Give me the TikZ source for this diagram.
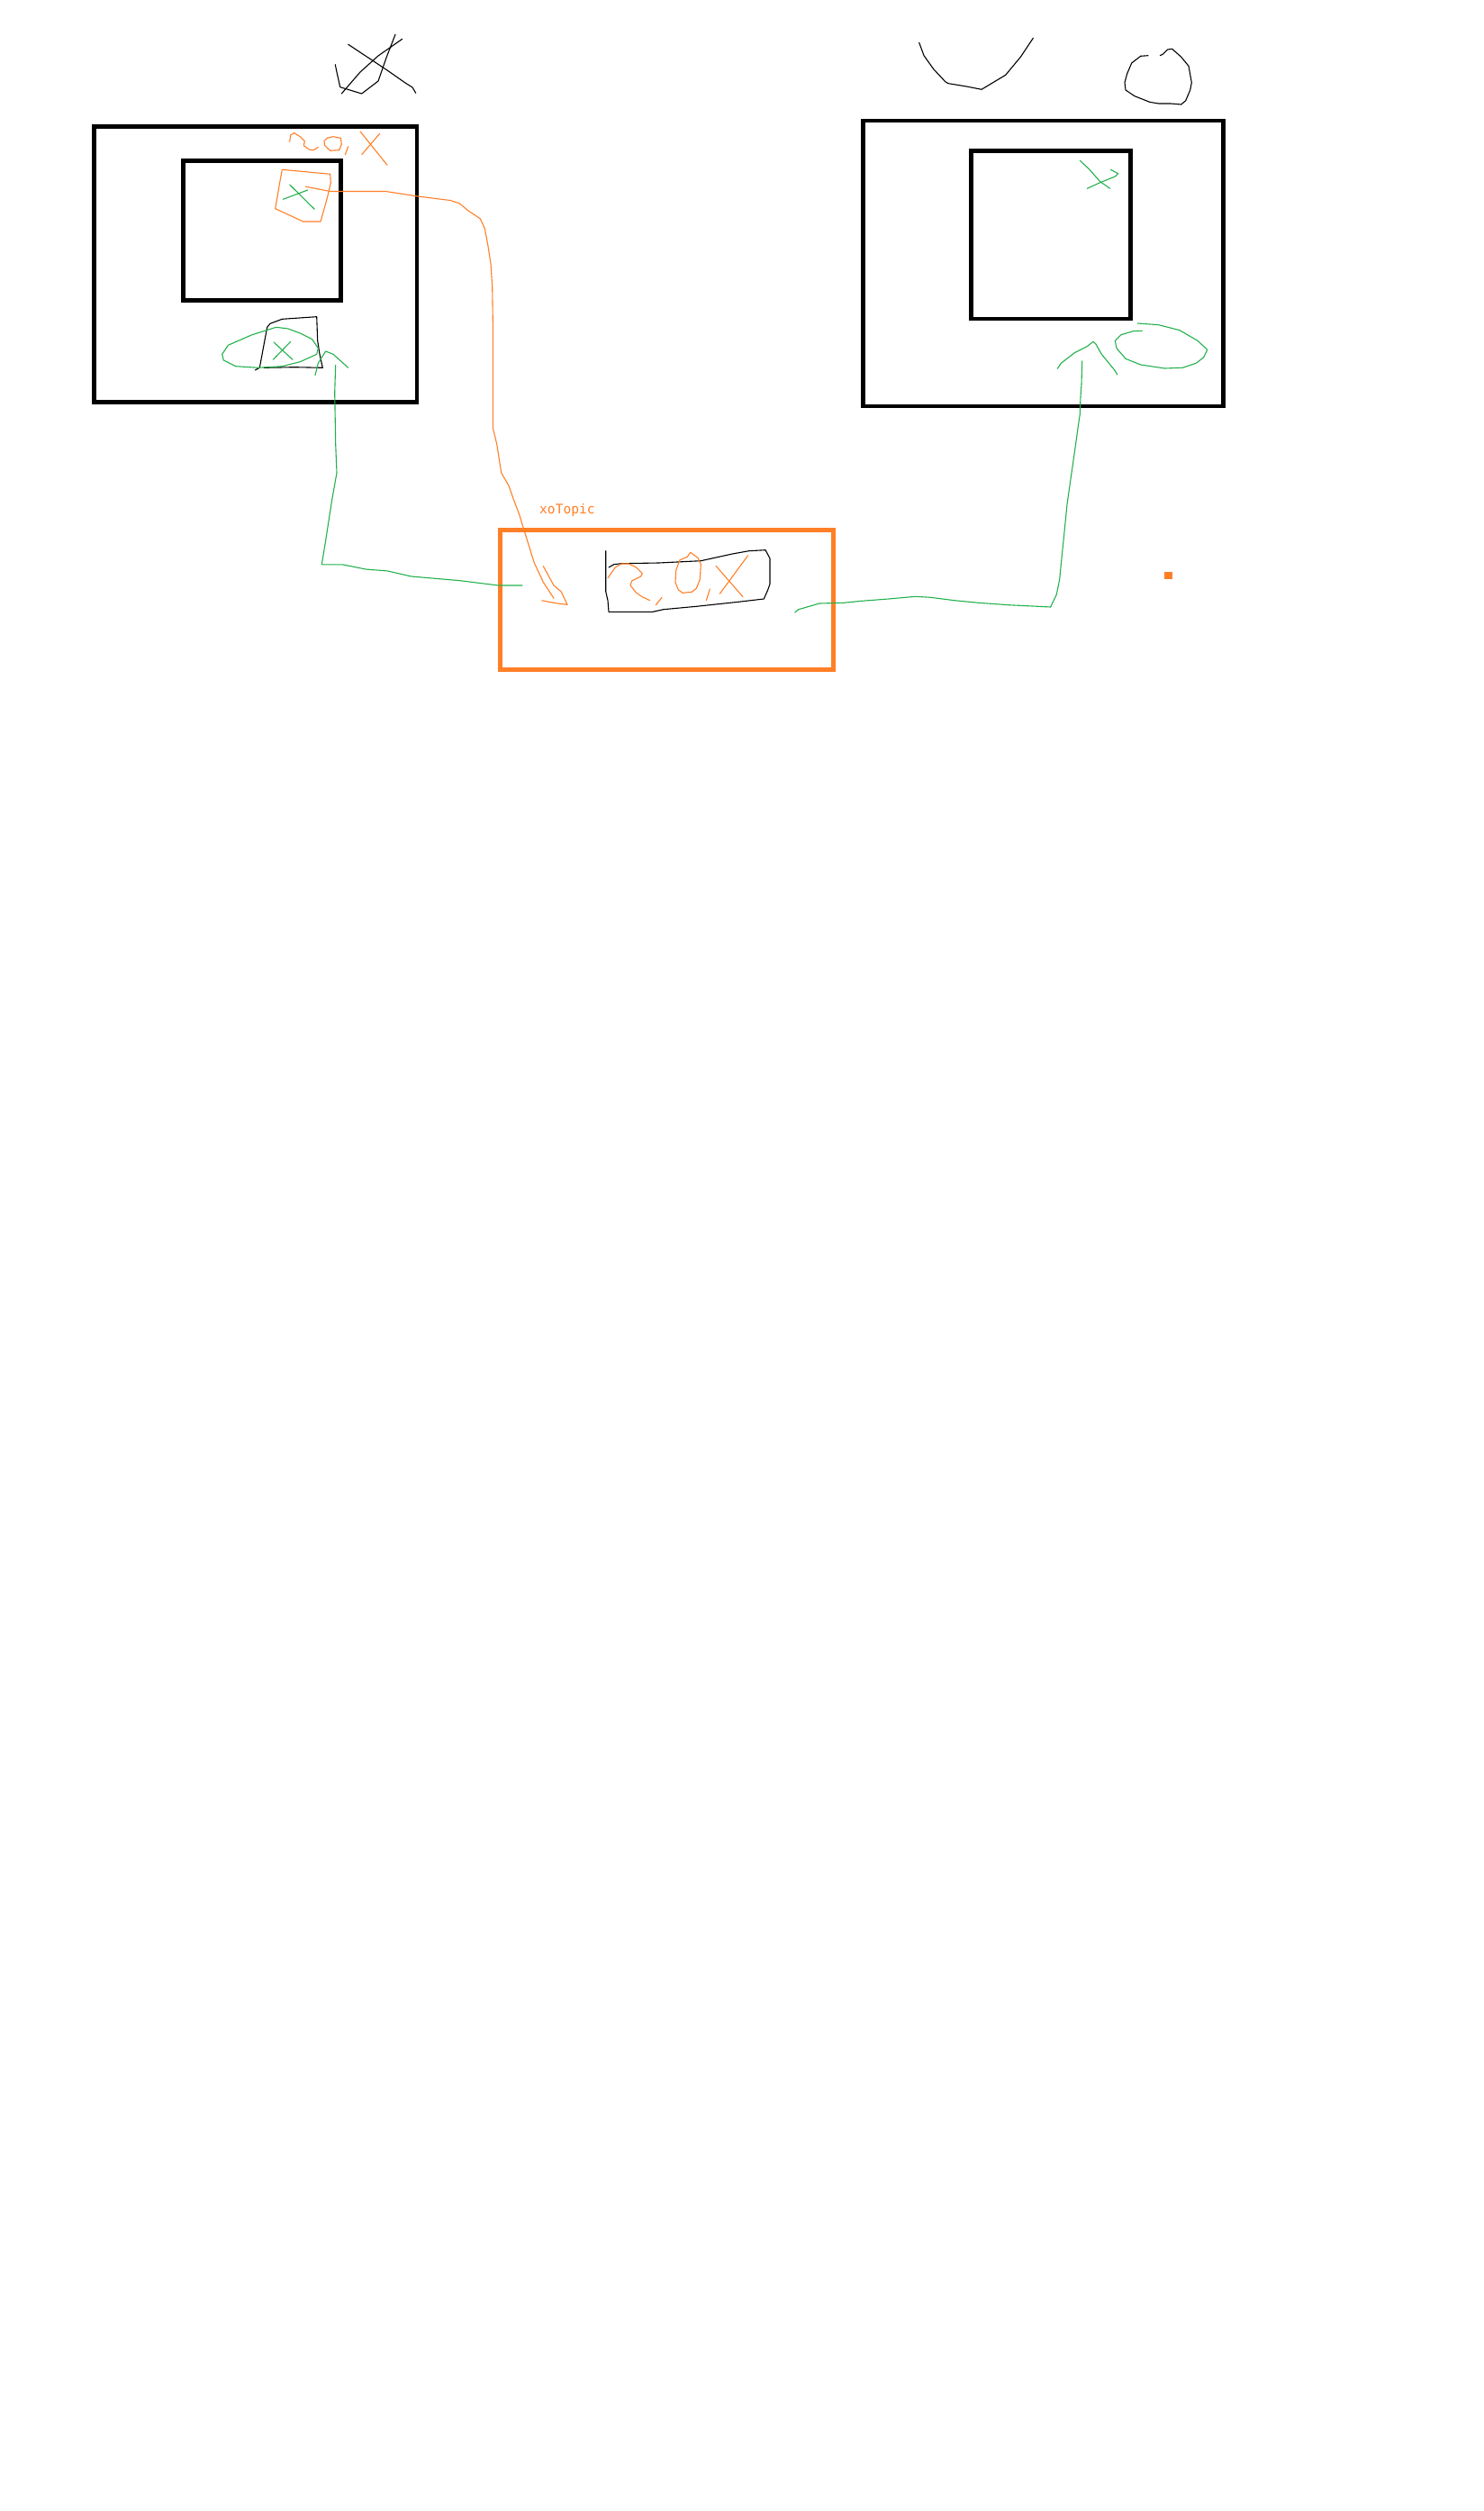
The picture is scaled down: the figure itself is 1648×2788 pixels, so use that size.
\documentclass[tikz,border=0pt]{standalone}
\usepackage{fontspec}
\newfontfamily\labelfont{DejaVu Sans Mono}
\definecolor{sketchorange}{RGB}{255,127,39}
\definecolor{sketchgreen}{RGB}{34,177,76}

\begin{document}
\begin{tikzpicture}[x=1pt,y=-1pt,
   frame/.style={line width=4.6pt},
   pen/.style={line width=1.1pt,line join=round,line cap=round}]
   \useasboundingbox (0,0) rectangle (1648,2788);
   \fill[white] (0,0) rectangle (1648,2788);

   \draw[frame] (104.7,140.7) rectangle (463,446.7);
   \draw[frame] (203.3,178.7) rectangle (378.3,333.3);
   \draw[frame] (958.3,134) rectangle (1358.3,451);
   \draw[frame] (1078.7,167.7) rectangle (1255.3,354);
   \draw[frame,sketchorange] (555.3,588.7) rectangle (925.3,743.7);
   \fill[sketchorange] (1293.3,635) rectangle (1302,643.3);

   \node[anchor=base west,inner sep=0pt,text=sketchorange,font=\labelfont\fontsize{14.6}{17}\selectfont] (topic) at (599,570) {xoTopic};

   \draw[pen] (386.7,49.3) -- (430,78) -- (450,92) -- (458,97) -- (461.7,103.3);
   \draw[pen] (446.7,43.3) -- (420,62) -- (400,80) -- (379.3,104);
   \draw[pen] (372.3,71.7) -- (374,80) -- (377.7,96.7) -- (401.7,104) -- (420,90) -- (429.3,63.3) -- (439,38.3);

   \draw[pen] (1020.7,47.3) -- (1026,61.7) -- (1036.7,76.7) -- (1050,91) -- (1053.3,92.7) -- (1073.3,96) -- (1090,99.3) -- (1116.7,83.3) -- (1133.3,63.3) -- (1140,53.3) -- (1147.3,42.3);
   \draw[pen] (1275,61.7) -- (1266.7,62.3) -- (1256.7,70) -- (1251.7,81.7) -- (1249,91.7) -- (1250,100) -- (1260,106.7) -- (1276.7,113.3) -- (1286.7,115) -- (1300,115) -- (1311.7,116) -- (1316.7,111.7) -- (1321.7,100) -- (1323.3,91.7) -- (1320,73.3) -- (1311.7,63.3) -- (1301.7,54.3) -- (1296.7,55) -- (1291.7,60) -- (1288.3,61.7);

   \draw[pen,sketchorange] (321.7,157.3) -- (322.7,150) -- (326.7,147.7) -- (333.3,151.7) -- (338.3,156.7) -- (337.3,161.7) -- (343.3,166) -- (348.3,166.7) -- (353.3,163.3);
   \draw[pen,sketchorange] (363.3,153.3) -- (370,151.7) -- (378.3,153.3) -- (379.3,160) -- (376.7,166.7) -- (366.7,167.3) -- (360.7,161.7) -- (360,156.7) -- cycle;
   \draw[pen,sketchorange] (386.7,162.7) -- (383.3,171.7);
   \draw[pen,sketchorange] (400,146) -- (430,183.3);
   \draw[pen,sketchorange] (421.7,148.3) -- (401.7,171.7);

   \draw[pen,sketchorange] (313.3,188.3) -- (366.7,193.3) -- (367.3,203.3) -- (363.3,220) -- (356,246) -- (336.7,246) -- (320,238.3) -- (305.7,231.7) -- (310,206.7) -- cycle;
   \draw[pen,sketchgreen] (321.7,205) -- (349.3,232.3);
   \draw[pen,sketchgreen] (314.3,221.3) -- (341.7,211);

   \draw[pen] (283.3,411) -- (288.3,408.3) -- (296.7,363.3) -- (300,359.3) -- (313.3,354.3) -- (351.7,351.7) -- (352.7,378.3) -- (355,393.3) -- (358.3,408.3) -- (326.7,407.7) -- (293.3,408.3);
   \draw[pen,sketchgreen] (246.7,393.3) -- (253.3,383.3) -- (280,371.7) -- (306.7,363.3) -- (320,365) -- (333.3,370) -- (346.7,376.7) -- (353.3,386.7) -- (351.7,393.3) -- (333.3,401.7) -- (313.3,406.7) -- (286.7,408.3) -- (261.7,406.7) -- (248.3,400) -- cycle;
   \draw[pen,sketchgreen] (304,380) -- (325,399.3);
   \draw[pen,sketchgreen] (303.3,399.3) -- (322.7,379.3);

   \draw[pen,sketchgreen] (1199.3,178.3) -- (1210,188.3) -- (1221.7,201.7) -- (1232.7,209.3);
   \draw[pen,sketchgreen] (1207.3,209.3) -- (1221.7,202.7) -- (1238.3,196) -- (1241.7,192.7) -- (1233.3,188.3);
   \draw[pen,sketchgreen] (1263.3,359) -- (1286.7,360.7) -- (1310,366.7) -- (1330,378.3) -- (1340.7,388.3) -- (1336.7,396.7) -- (1328.3,403.3) -- (1313.3,408.3) -- (1293.3,409) -- (1266.7,405) -- (1250,398.3) -- (1240,386.7) -- (1238.3,378.3) -- (1245,371.7) -- (1258.3,367.7) -- (1268.3,367.3);

   \draw[pen] (672.7,611.7) -- (672.7,656.7) -- (675,666.7) -- (676,679.3) -- (725,679.3) -- (736.7,676.7) -- (773.3,673.3) -- (820,668.3) -- (848.3,665) -- (852.7,655) -- (855,648.3) -- (855,620) -- (850,610.7) -- (831.7,611.7) -- (813.3,615) -- (778.3,622.7) -- (731.7,625) -- (690,625.7) -- (681.7,626.7) -- (676,630);
   \draw[pen,sketchorange] (675,641.7) -- (683.3,630) -- (690,626) -- (698.3,626) -- (706.7,630) -- (713.3,636.7) -- (711.7,640) -- (701.7,645) -- (700,650) -- (706.7,658.3) -- (713.3,662.7) -- (721.7,666.7);
   \draw[pen,sketchorange] (735,663.3) -- (728.3,671.7);
   \draw[pen,sketchorange] (766.7,613.3) -- (775,619.3) -- (778.3,626.7) -- (777.3,643.3) -- (773.3,653.3) -- (768.3,657.3) -- (758.3,658.3) -- (753.3,655) -- (750,646.7) -- (750.7,633.3) -- (755,621.7) -- (763.3,618.3) -- cycle;
   \draw[pen,sketchorange] (788.3,654) -- (784.3,666.7);
   \draw[pen,sketchorange] (795,628.3) -- (825,662.7);
   \draw[pen,sketchorange] (830.7,616.7) -- (799.3,659.3);

   \coordinate (fromX) at (339.3,207.1);
   \coordinate (toTopic) at (615,664.3);
   \draw[pen,sketchorange] (fromX) -- (366.7,212.5) -- (428.3,212.5) -- (463.3,217.9) -- (500,222.5) -- (510,225.7) -- (520,233.9) -- (533.3,242.9) -- (538.3,253.6) -- (541.7,271.4) -- (545,292.9) -- (546.7,317.9) -- (547.3,357.1) -- (547.3,475) -- (551.7,492.9) -- (556.7,525) -- (565,539.3) -- (570,553.6) -- (576.7,571.4) -- (583.3,592.9) -- (593.3,625) -- (603.3,646.4) -- (toTopic);
   \draw[pen,sketchorange] (603.3,628.6) -- (615,650) -- (623.3,657.1) -- (630,671.4) -- (616.7,669.6) -- (601.7,666.8);

   \coordinate (pubStart) at (580,650);
   \coordinate (pubEnd) at (372.7,405.4);
   \draw[pen,sketchgreen] (pubStart) -- (553.3,650) -- (510,644.6) -- (456.7,640) -- (430,633.9) -- (406.7,632.1) -- (380,626.8) -- (357.3,626.8) -- (361.7,600) -- (368.3,557.1) -- (374,525) -- (372.7,492.9) -- (371.7,435.7) -- (pubEnd);
   \draw[pen,sketchgreen] (350,416.7) -- (353.3,403.3) -- (361.7,390) -- (370,393.3) -- (386.7,408.3);

   \coordinate (subStart) at (882.7,680);
   \coordinate (subEnd) at (1201.7,401);
   \draw[pen,sketchgreen] (subStart) -- (886.7,676.7) -- (910,670) -- (936.7,669.3) -- (956.7,667.3) -- (986.7,665) -- (1016.7,662.3) -- (1033.3,663.3) -- (1060,666.7) -- (1086.7,669.3) -- (1120,671.7) -- (1166.7,674) -- (1173.3,660) -- (1176.7,643.3) -- (1178.3,626.7) -- (1181.7,593.3) -- (1185,560) -- (1188.3,536.7) -- (1191.7,513.3) -- (1195,490) -- (1197.3,473.3) -- (1199.3,460) -- (1200,440) -- (1201,426.7) -- (subEnd);
   \draw[pen,sketchgreen] (1174.3,409.3) -- (1178.3,403.3) -- (1193.3,391.7) -- (1206.7,385) -- (1214,379.3) -- (1216.7,381.7) -- (1223.3,393.3) -- (1238.3,411.7) -- (1240.7,416);

\end{tikzpicture}
\end{document}
